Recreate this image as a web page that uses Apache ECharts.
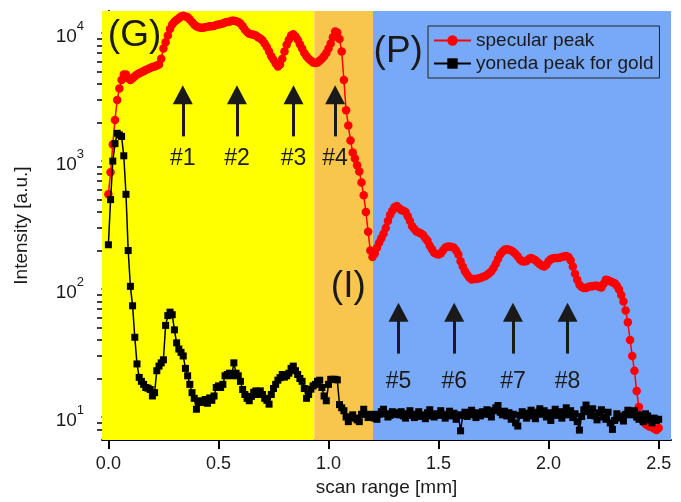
<!DOCTYPE html>
<html>
<head>
<meta charset="utf-8">
<script src="https://cdn.jsdelivr.net/npm/echarts@6/dist/echarts.min.js"></script>
<style>
  html, body { margin: 0; padding: 0; background: #fff; }
  #chart { width: 681px; height: 502px; }
</style>
</head>
<body>
<div id="chart"></div>
<script>
// scan position [mm]
const scanX = [
  0.00, 0.01, 0.02, 0.03, 0.04, 0.05, 0.06, 0.07, 0.08, 0.09,
  0.10, 0.11, 0.12, 0.13, 0.14, 0.15, 0.16, 0.17, 0.18, 0.19,
  0.20, 0.21, 0.22, 0.23, 0.24, 0.25, 0.26, 0.27, 0.28, 0.29,
  0.30, 0.31, 0.32, 0.33, 0.34, 0.35, 0.36, 0.37, 0.38, 0.39,
  0.40, 0.41, 0.42, 0.43, 0.44, 0.45, 0.46, 0.47, 0.48, 0.49,
  0.50, 0.51, 0.52, 0.53, 0.54, 0.55, 0.56, 0.57, 0.58, 0.59,
  0.60, 0.61, 0.62, 0.63, 0.64, 0.65, 0.66, 0.67, 0.68, 0.69,
  0.70, 0.71, 0.72, 0.73, 0.74, 0.75, 0.76, 0.77, 0.78, 0.79,
  0.80, 0.81, 0.82, 0.83, 0.84, 0.85, 0.86, 0.87, 0.88, 0.89,
  0.90, 0.91, 0.92, 0.93, 0.94, 0.95, 0.96, 0.97, 0.98, 0.99,
  1.00, 1.01, 1.02, 1.03, 1.04, 1.05, 1.06, 1.07, 1.08, 1.09,
  1.10, 1.11, 1.12, 1.13, 1.14, 1.15, 1.16, 1.17, 1.18, 1.19,
  1.20, 1.21, 1.22, 1.23, 1.24, 1.25, 1.26, 1.27, 1.28, 1.29,
  1.30, 1.31, 1.32, 1.33, 1.34, 1.35, 1.36, 1.37, 1.38, 1.39,
  1.40, 1.41, 1.42, 1.43, 1.44, 1.45, 1.46, 1.47, 1.48, 1.49,
  1.50, 1.51, 1.52, 1.53, 1.54, 1.55, 1.56, 1.57, 1.58, 1.59,
  1.60, 1.61, 1.62, 1.63, 1.64, 1.65, 1.66, 1.67, 1.68, 1.69,
  1.70, 1.71, 1.72, 1.73, 1.74, 1.75, 1.76, 1.77, 1.78, 1.79,
  1.80, 1.81, 1.82, 1.83, 1.84, 1.85, 1.86, 1.87, 1.88, 1.89,
  1.90, 1.91, 1.92, 1.93, 1.94, 1.95, 1.96, 1.97, 1.98, 1.99,
  2.00, 2.01, 2.02, 2.03, 2.04, 2.05, 2.06, 2.07, 2.08, 2.09,
  2.10, 2.11, 2.12, 2.13, 2.14, 2.15, 2.16, 2.17, 2.18, 2.19,
  2.20, 2.21, 2.22, 2.23, 2.24, 2.25, 2.26, 2.27, 2.28, 2.29,
  2.30, 2.31, 2.32, 2.33, 2.34, 2.35, 2.36, 2.37, 2.38, 2.39,
  2.40, 2.41, 2.42, 2.43, 2.44, 2.45, 2.46, 2.47, 2.48, 2.49,
  2.50
]

const specularPeak = [
  550, 820, 1350, 2100, 3000, 3700, 4300, 4750, 4750, 4450,
  4300, 4450, 4600, 4750, 4850, 4950, 5050, 5150, 5250, 5350,
  5450, 5500, 5600, 5700, 6300, 7600, 8500, 9600, 10800, 11700,
  12300, 12700, 13100, 13500, 13700, 13500, 13300, 12800, 12200, 11700,
  11300, 11100, 11000, 11000, 11100, 11200, 11300, 11300, 11400, 11600,
  11700, 11800, 11900, 12100, 12200, 12300, 12500, 12500, 12400, 12200,
  11900, 11300, 10700, 10200, 9900, 9800, 9700, 9600, 9300, 9100,
  8800, 8300, 7800, 7200, 6600, 6200, 5800, 5500, 5700, 6300,
  7200, 8100, 8900, 9600, 9800, 9400, 8900, 8200, 7600, 7000,
  6600, 6300, 6100, 5900, 5850, 5900, 6100, 6300, 6600, 7000,
  7600, 8300, 9300, 10300, 10100, 9000, 7200, 4300, 2500, 1900,
  1450, 1170, 1050, 930, 830, 680, 540, 400, 280, 200,
  178, 190, 210, 230, 250, 270, 300, 340, 380, 410,
  435, 445, 430, 415, 410, 400, 370, 340, 310, 295,
  282, 277, 272, 265, 250, 238, 218, 205, 192, 188,
  186, 190, 200, 210, 214, 215, 213, 210, 200, 186,
  165, 150, 138, 130, 123, 119, 120, 120, 121, 122,
  124, 126, 129, 133, 138, 146, 158, 172, 186, 196,
  203, 205, 203, 200, 195, 188, 180, 170, 165, 164,
  166, 172, 175, 172, 168, 162, 156, 152, 150, 155,
  165, 171, 174, 175, 175, 176, 178, 180, 181, 178,
  168, 150, 132, 118, 108, 104, 102, 102, 104, 105,
  105, 106, 106, 104, 103, 110, 118, 117, 115, 113,
  111, 106, 99, 90, 80, 68, 55, 40, 30, 23,
  16, 12, 10, 9.2, 8.8, 8.6, 8.4, 8.3, 8.1, 7.9,
  8.2
]

const yonedaPeak = [
  222, 500, 1000, 1370, 1650, 1600, 1560, 1100, 550, 200,
  105, 74, 42, 26, 20.4, 19, 18, 17, 16.8, 16.4,
  14.6, 15.5, 23, 25, 26.5, 28, 52, 62, 66, 63,
  48, 38, 34, 32, 30, 24, 21, 18, 15.5, 14,
  11.5, 13, 13.4, 13, 13.7, 12.8, 14.1, 13.5, 14.6, 17,
  17.5, 17, 18, 21, 21.5, 22, 21, 26.5, 22, 21,
  19, 16.4, 15, 14, 13.4, 14.5, 15.6, 16, 15, 16,
  15, 14, 13.5, 12.6, 15, 16.7, 18, 19.4, 20.3, 21.5,
  20.5, 21, 22, 24, 25, 23, 21.5, 20, 19, 16.7,
  14, 15, 16.5, 17.5, 18, 19, 19.4, 17, 14.6, 13.4,
  18, 19.7, 19.7, 19.7, 19.5, 12.5, 11.8, 11.2, 10, 9.2,
  10, 10.4, 9.8, 9.5, 9.2, 10.5, 11.5, 10.5, 9.9, 10.2,
  10.5, 9.8, 9.6, 10.5, 11, 11.5, 10.6, 10, 10.3, 11,
  10.5, 10.8, 10.4, 11.0, 10.2, 9.8, 10.6, 11.2, 10.3, 9.9,
  10.5, 11.0, 10.1, 10.4, 9.7, 10.8, 11.4, 10.2, 10.0, 10.6,
  10.3, 11.2, 10.5, 9.8, 10.4, 11.1, 10.2, 10.7, 9.6, 10.4,
  7.8, 10.3, 10.9, 10.1, 10.6, 11.3, 10.4, 9.9, 10.8, 10.2,
  11.0, 10.5, 11.4, 10.6, 10.0, 11.2, 11.8, 12.3, 10.9, 10.4,
  11.1, 10.2, 10.8, 9.6, 10.5, 9.0, 8.5, 10.3, 11.0, 10.6,
  9.8, 10.7, 11.3, 10.2, 9.7, 10.9, 11.6, 10.5, 11.2, 10.0,
  10.8, 9.4, 10.6, 11.5, 10.3, 11.0, 9.8, 10.7, 11.8, 10.4,
  11.2, 9.9, 10.6, 9.2, 7.9, 10.1, 11.4, 12.4, 11.0, 10.3,
  11.6, 10.2, 9.5, 10.8, 11.4, 10.0, 9.6, 10.9, 9.0, 8.0,
  9.4, 10.6, 9.8, 10.2, 9.3, 10.5, 11.3, 10.4, 10.8, 11.2,
  10.0, 9.6, 10.4, 9.2, 10.6, 10.2, 9.5, 9.0, 9.8, 9.4,
  9.6
]

// shaded regions (G) | (I) | (P)
const regionEdges = [0.936, 1.202]
const regionNames = ['(G)', '(I)', '(P)']
const regionLabelX = [0.119, 1.09, 1.317]
const regionLabelY = [9500, 105, 7140]

// peak arrows
const arrowNames = ['#1', '#2', '#3', '#4', '#5', '#6', '#7', '#8']
const arrowX = [0.338, 0.584, 0.841, 1.03, 1.318, 1.571, 1.838, 2.086]
const arrowTail = [1560, 1560, 1560, 1560, 31.3, 31.3, 31.3, 31.3]
const arrowHead = [3300, 3300, 3300, 3300, 66, 66, 66, 66]
const arrowLabelY = [1045, 1045, 1045, 1045, 19, 19, 19, 19]

const xTicks = [0, 0.5, 1, 1.5, 2, 2.5]
const yMajor = [10, 100, 1000, 10000]
const yMinor = [8, 9, 20, 30, 40, 50, 60, 70, 80, 90,
  200, 300, 400, 500, 600, 700, 800, 900,
  2000, 3000, 4000, 5000, 6000, 7000, 8000, 9000]

const xMin = -0.029
const xMax = 2.556
const yMin = 6.6
const yMax = 14900

const font = 'Liberation Sans'
const ink = '#1a1a1a'

function pairs(ys) {
  return scanX.map((x, i) => [x, ys[i]])
}

const chart = echarts.init(document.getElementById('chart'))

chart.setOption({
  animation: false,
  grid: { left: 102, top: 11, right: 10, bottom: 61 },
  legend: {
    data: ['specular peak', 'yoneda peak for gold'],
    orient: 'vertical',
    left: 428,
    top: 26,
    itemWidth: 37,
    itemHeight: 13,
    itemGap: 4,
    itemTextGap: 8,
    padding: [5, 6, 5, 5],
    borderColor: '#222',
    borderWidth: 1,
    textStyle: { fontFamily: font, fontSize: 19, color: ink }
  },
  xAxis: {
    type: 'value',
    min: xMin,
    max: xMax,
    name: 'scan range [mm]',
    nameLocation: 'middle',
    nameGap: 37,
    nameTextStyle: { fontFamily: font, fontSize: 19, color: ink },
    splitLine: { show: false },
    axisLine: { lineStyle: { color: '#000', width: 2 } },
    axisTick: { length: 9, lineStyle: { width: 2 }, customValues: xTicks },
    axisLabel: {
      customValues: xTicks,
      margin: 15,
      fontFamily: font,
      fontSize: 18,
      color: ink,
      formatter: v => v.toFixed(1)
    }
  },
  yAxis: [
    {
      type: 'log',
      position: 'left',
      min: yMin,
      max: yMax,
      name: 'Intensity [a.u.]',
      nameLocation: 'middle',
      nameGap: 71,
      nameTextStyle: { fontFamily: font, fontSize: 19, color: ink },
      splitLine: { show: false },
      minorTick: { show: false },
      axisLine: { show: true, lineStyle: { color: '#000', width: 2 } },
      axisTick: { length: 7, lineStyle: { width: 1.5 }, customValues: yMajor },
      axisLabel: {
        customValues: yMajor,
        margin: 18,
        color: ink,
        formatter: v => '{b|10}{s|' + Math.round(Math.log10(v)) + '}',
        rich: {
          b: { fontFamily: font, fontSize: 19, lineHeight: 26, verticalAlign: 'bottom', color: ink },
          s: { fontFamily: font, fontSize: 13, lineHeight: 14, verticalAlign: 'top', color: ink }
        }
      }
    },
    {
      // minor ticks only
      type: 'log',
      position: 'left',
      offset: 0,
      min: yMin,
      max: yMax,
      splitLine: { show: false },
      axisLine: { show: false },
      axisLabel: { show: false },
      axisTick: { length: 5, lineStyle: { color: '#000', width: 1.5 }, customValues: yMinor }
    }
  ],
  series: [
    {
      name: 'regions',
      type: 'line',
      data: [],
      z: 0,
      silent: true,
      markArea: {
        silent: true,
        data: [
          [{ xAxis: xMin, itemStyle: { color: '#ffff00', opacity: 1 } }, { xAxis: regionEdges[0] }],
          [{ xAxis: regionEdges[0], itemStyle: { color: '#f8c64c', opacity: 1 } }, { xAxis: regionEdges[1] }],
          [{ xAxis: regionEdges[1], itemStyle: { color: '#78a8f8', opacity: 1 } }, { xAxis: xMax }]
        ]
      },
      markLine: {
        silent: true,
        symbol: ['none', 'triangle'],
        symbolSize: [20, 19],
        label: { show: false },
        lineStyle: { color: ink, width: 3, type: 'solid' },
        data: arrowX.map((x, i) => [
          { coord: [x, arrowTail[i]] },
          { coord: [x, arrowHead[i]] }
        ])
      }
    },
    {
      name: 'region labels',
      type: 'scatter',
      z: 2,
      silent: true,
      symbolSize: 1,
      itemStyle: { color: 'rgba(0,0,0,0)', opacity: 1 },
      label: {
        show: true,
        position: 'inside',
        fontFamily: font,
        fontSize: 37,
        color: ink,
        formatter: p => p.data[2]
      },
      data: regionNames.map((n, i) => [regionLabelX[i], regionLabelY[i], n])
    },
    {
      name: 'arrow labels',
      type: 'scatter',
      z: 2,
      silent: true,
      symbolSize: 1,
      itemStyle: { color: 'rgba(0,0,0,0)', opacity: 1 },
      label: {
        show: true,
        position: 'inside',
        fontFamily: font,
        fontSize: 23,
        color: ink,
        formatter: p => p.data[2]
      },
      data: arrowNames.map((n, i) => [arrowX[i], arrowLabelY[i], n])
    },
    {
      name: 'specular peak',
      type: 'line',
      z: 3,
      symbol: 'circle',
      symbolSize: 8.5,
      lineStyle: { color: '#ff0000', width: 1.5 },
      itemStyle: { color: '#ff0000' },
      data: pairs(specularPeak)
    },
    {
      name: 'yoneda peak for gold',
      type: 'line',
      z: 4,
      symbol: 'rect',
      symbolSize: 7,
      lineStyle: { color: '#000', width: 1.5 },
      itemStyle: { color: '#000' },
      data: pairs(yonedaPeak)
    }
  ]
})
</script>
</body>
</html>
